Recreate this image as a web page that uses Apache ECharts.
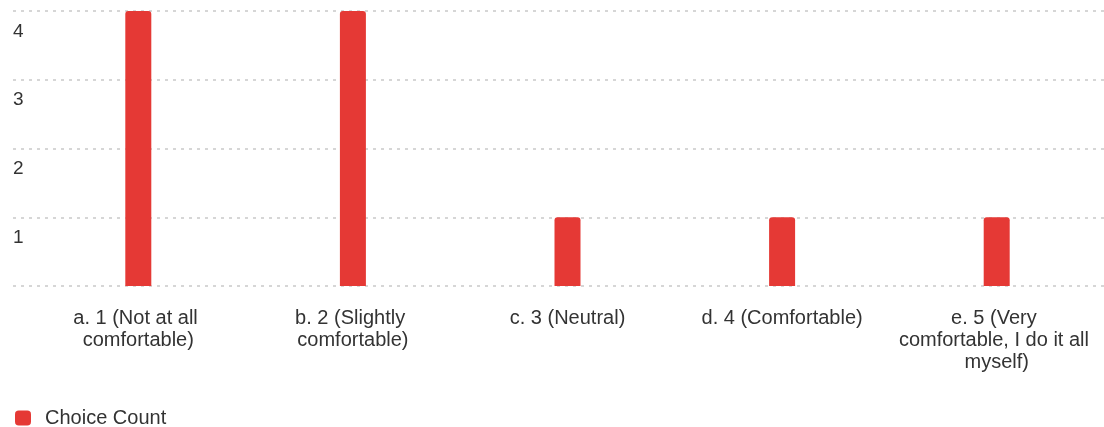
<!DOCTYPE html>
<html>
<head>
<meta charset="utf-8">
<title>Choice Count</title>
<script src="https://cdn.jsdelivr.net/npm/echarts@6/dist/echarts.min.js"></script>
<style>
  html, body { margin: 0; padding: 0; background: #fff; }
  #chart { width: 1104px; height: 427px; }
</style>
</head>
<body>
<div id="chart"></div>
<script>
// answer options (x axis)
const categories = [
  'a. 1 (Not at all comfortable)',
  'b. 2 (Slightly comfortable)',
  'c. 3 (Neutral)',
  'd. 4 (Comfortable)',
  'e. 5 (Very comfortable, I do it all myself)'
];
// how many people picked each option
const choiceCount = [4, 4, 1, 1, 1];
const seriesName = 'Choice Count';

const RED = '#E53935';
const TEXT = '#333';

const chart = echarts.init(document.getElementById('chart'));

chart.setOption({
  animation: false,
  legend: {
    left: 10,
    top: 403,
    itemWidth: 16,
    itemHeight: 15,
    icon: 'roundRect',
    textStyle: { fontSize: 20, color: TEXT, fontFamily: 'Liberation Sans, Arial', padding: [0, 0, 0, 9] }
  },
  // grid 0 only carries the dotted lines and the y labels (they start further left)
  // grid 1 holds the bars
  grid: [
    { left: 13, right: 0, top: 11, bottom: 141 },
    { left: 31, right: 0, top: 11, bottom: 141 }
  ],
  xAxis: [
    { gridIndex: 0, type: 'category', data: categories, show: false },
    {
      gridIndex: 1,
      type: 'category',
      data: categories,
      axisLine: { show: false },
      axisTick: { show: false },
      axisLabel: {
        interval: 0,
        margin: 21,
        width: 196,
        overflow: 'break',
        fontSize: 20,
        lineHeight: 22,
        color: TEXT,
        fontFamily: 'Liberation Sans, Arial'
      }
    }
  ],
  yAxis: [
    {
      gridIndex: 0,
      type: 'value',
      min: 0,
      max: 4,
      interval: 1,
      axisLine: { show: false },
      axisTick: { show: false },
      splitLine: { lineStyle: { color: '#d6d6d6', width: 2, type: [3, 5] } },
      axisLabel: {
        inside: true,
        margin: 0,
        showMinLabel: false,
        align: 'left',
        verticalAlign: 'top',
        padding: [11, 0, 0, 0],
        fontSize: 19,
        color: TEXT,
        fontFamily: 'Liberation Sans, Arial'
      }
    },
    {
      gridIndex: 1,
      type: 'value',
      min: 0,
      max: 4,
      interval: 1,
      show: false,
      splitLine: { show: false }
    }
  ],
  series: [
    {
      name: seriesName,
      type: 'bar',
      xAxisIndex: 1,
      yAxisIndex: 1,
      data: choiceCount,
      barWidth: 26,
      itemStyle: { color: RED, borderRadius: [3, 3, 0, 0] }
    }
  ]
});
</script>
</body>
</html>
